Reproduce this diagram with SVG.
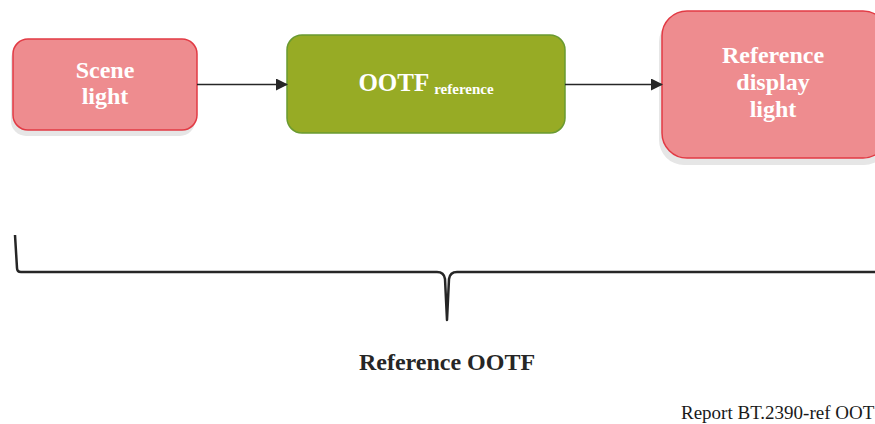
<svg xmlns="http://www.w3.org/2000/svg" width="875" height="424" viewBox="0 0 875 424">
<style>
.pink{fill:#ee8c8f;stroke:#e23a44;stroke-width:1.5}
.green{fill:#97ab25;stroke:#6a9a30;stroke-width:1.5}
.shadow{fill:#e6e6e6}
.lbl{font-family:"Liberation Serif",serif;font-weight:bold;fill:#ffffff;text-anchor:middle}
.conn{stroke:#262626;stroke-width:1.5;fill:none}
</style>
<defs>
<marker id="ah" markerWidth="12" markerHeight="12" refX="11" refY="6" orient="auto" markerUnits="userSpaceOnUse">
<path d="M0,0 L12,6 L0,12 Z" fill="#262626"/>
</marker>
</defs>
<rect width="875" height="424" fill="#ffffff"/>
<g id="scene">
<rect class="shadow" x="11" y="44" width="184" height="92" rx="15"/>
<rect class="pink" x="13" y="39" width="184" height="91" rx="15"/>
<text class="lbl" font-size="24" x="105" y="78">Scene</text>
<text class="lbl" font-size="24" x="105" y="104">light</text>
</g>
<g id="ootf">
<rect class="green" x="287" y="35" width="278" height="98" rx="15"/>
<text class="lbl" x="426" y="91"><tspan font-size="25">OOTF</tspan><tspan font-size="15" dx="5" dy="3">reference</tspan></text>
</g>
<g id="refdisplay">
<rect class="shadow" x="659" y="17" width="230" height="148" rx="25"/>
<rect class="pink" x="662" y="11" width="226" height="147" rx="25"/>
<text class="lbl" font-size="24" x="773" y="63">Reference</text>
<text class="lbl" font-size="24" x="773" y="90">display</text>
<text class="lbl" font-size="24" x="773" y="117">light</text>
</g>
<g id="connectors">
<line class="conn" x1="197" y1="84.5" x2="287" y2="84.5" marker-end="url(#ah)"/>
<line class="conn" x1="565" y1="84.5" x2="662" y2="84.5" marker-end="url(#ah)"/>
</g>
<g id="brace">
<path d="M15,235 L17,268 Q17,272 21,272 L437,272 Q444,272 445,279 L447,320 L449,279 Q450,272 457,272 L875,272" fill="none" stroke="#262626" stroke-width="2.5" stroke-linejoin="round"/>
<text x="447" y="370" font-family="'Liberation Serif',serif" font-weight="bold" font-size="24" fill="#262626" text-anchor="middle">Reference OOTF</text>
</g>
<text x="681" y="419" font-family="'Liberation Serif',serif" font-size="19" fill="#1a1a1a">Report BT.2390-ref OOT</text>
</svg>
